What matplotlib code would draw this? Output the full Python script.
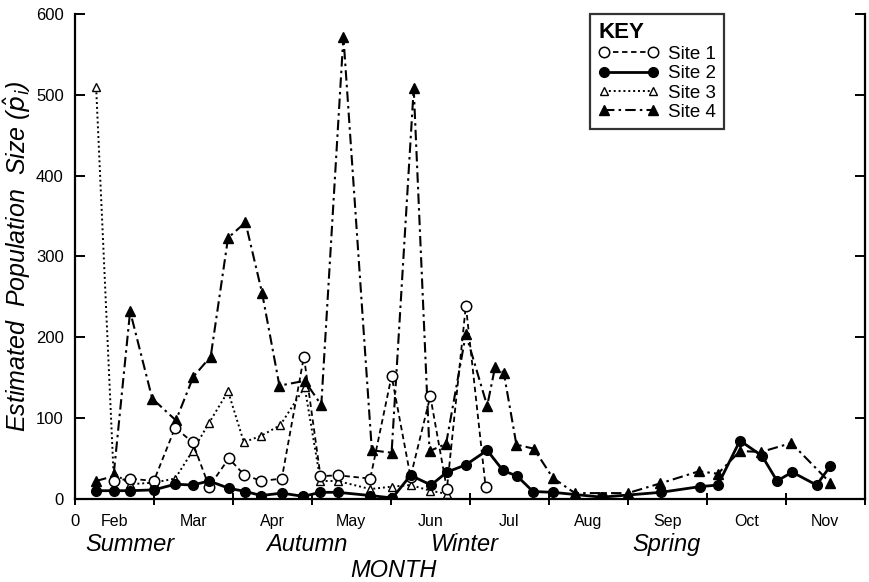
import matplotlib
matplotlib.use('Agg')
import matplotlib.pyplot as plt
from matplotlib.transforms import blended_transform_factory

plt.rcParams['font.family'] = ['Liberation Sans', 'DejaVu Sans']

# x positions are in months from the start of February (0 = start of Feb)
site1_x = [0.49, 0.70, 1.00, 1.27, 1.49, 1.70, 1.95, 2.14, 2.36, 2.62, 2.90, 3.11, 3.33,
           3.74, 4.01, 4.25, 4.50, 4.71, 4.95, 5.20]
site1_y = [22, 25, 22, 88, 70, 15, 50, 30, 22, 25, 176, 28, 29,
           25, 152, 27, 127, 12, 239, 15]

site2_x = [0.27, 0.49, 0.70, 1.00, 1.27, 1.49, 1.70, 1.95, 2.16, 2.36, 2.62, 2.89, 3.11, 3.33,
           3.74, 4.02, 4.25, 4.51, 4.71, 4.95, 5.22, 5.42, 5.60, 5.80, 6.05, 6.67,
           7.42, 7.91, 8.14, 8.42, 8.70, 8.89, 9.08, 9.39, 9.56]
site2_y = [10, 10, 10, 11, 18, 17, 22, 13, 9, 4, 7, 3, 8, 8,
           4, 1, 29, 17, 33, 42, 60, 35, 28, 9, 8, 2,
           8, 15, 17, 72, 53, 22, 33, 17, 40]

site3_x = [0.27, 0.49, 0.70, 1.00, 1.27, 1.49, 1.70, 1.94, 2.14, 2.36, 2.60, 2.91, 3.11, 3.33,
           3.74, 4.01, 4.25, 4.50, 4.71]
site3_y = [509, 32, 18, 20, 25, 59, 94, 133, 70, 78, 91, 138, 22, 22,
           12, 15, 17, 10, 6]

site4_x = [0.27, 0.49, 0.70, 0.98, 1.28, 1.50, 1.72, 1.94, 2.16, 2.37, 2.59, 2.91, 3.12, 3.40,
           3.76, 4.01, 4.29, 4.49, 4.70, 4.95, 5.22, 5.32, 5.43, 5.59, 5.81, 6.05, 6.33,
           7.00, 7.41, 7.90, 8.14, 8.42, 8.69, 9.07, 9.56]
site4_y = [22, 28, 232, 124, 97, 151, 176, 323, 342, 255, 140, 146, 116, 572,
           60, 57, 508, 59, 68, 204, 115, 163, 156, 67, 62, 26, 7,
           7, 19, 34, 31, 59, 58, 69, 20]

months = ['Feb', 'Mar', 'Apr', 'May', 'Jun', 'Jul', 'Aug', 'Sep', 'Oct', 'Nov']
seasons = ['Summer', 'Autumn', 'Winter', 'Spring']
season_pos = [0.70, 2.94, 4.94, 7.49]

fig = plt.figure(figsize=(8.7, 5.82), dpi=100)
ax = fig.add_axes([0.086, 0.143, 0.908, 0.833])

ax.plot(site1_x, site1_y, linestyle=(0, (3, 2)), color='black', lw=1.3,
        marker='o', markersize=7.5, markerfacecolor='white', markeredgecolor='black',
        markeredgewidth=1.1, label='Site 1', zorder=3)
ax.plot(site2_x, site2_y, linestyle='-', color='black', lw=2.0,
        marker='o', markersize=7, markerfacecolor='black', label='Site 2', zorder=4)
ax.plot(site3_x, site3_y, linestyle=(0, (1, 1.5)), color='black', lw=1.4,
        marker='^', markersize=6, markerfacecolor='white', markeredgecolor='black',
        markeredgewidth=1.0, label='Site 3', zorder=2)
ax.plot(site4_x, site4_y, linestyle=(0, (5, 2, 1.2, 2)), color='black', lw=1.5,
        marker='^', markersize=6.5, markerfacecolor='black', label='Site 4', zorder=2)

ax.set_xlim(0, 10)
ax.set_ylim(0, 600)

ax.spines['top'].set_visible(False)
for s in ['left', 'right', 'bottom']:
    ax.spines[s].set_linewidth(1.6)

ax.set_yticks(range(0, 601, 100))
ax.set_yticklabels(['0', '100', '200', '300', '400', '500', '600'], fontsize=12)
ax.tick_params(axis='y', direction='in', length=7, width=1.4, left=True, right=True, pad=8)

ax.set_xticks(range(0, 11))
ax.set_xticklabels(['0'] + [''] * 10, fontsize=12)
ax.set_xticks([i + 0.5 for i in range(10)], minor=True)
ax.set_xticklabels(months, minor=True, fontsize=11.5)
ax.tick_params(axis='x', which='major', direction='inout', length=8, width=1.4, pad=7)
ax.tick_params(axis='x', which='minor', length=0, pad=11)

trans = blended_transform_factory(ax.transData, ax.transAxes)
for name, pos in zip(seasons, season_pos):
    ax.text(pos, -0.095, name, transform=trans, ha='center', va='center',
            fontsize=17, style='italic')
ax.text(4.03, -0.148, 'MONTH', transform=trans, ha='center', va='center',
        fontsize=17, style='italic')

ax.set_ylabel(r'Estimated  Population  Size ($\hat{p}_i$)', fontsize=18,
              style='italic', labelpad=2)

leg = ax.legend(loc='upper left', bbox_to_anchor=(0.652, 1.0), title='KEY',
                numpoints=2, handlelength=3.2, fontsize=13.5, frameon=True,
                fancybox=False, edgecolor='black', borderpad=0.45,
                labelspacing=0.12, handletextpad=0.5, borderaxespad=0.0)
leg.get_frame().set_linewidth(1.6)
leg.get_title().set_fontsize(16)
leg.get_title().set_fontweight('bold')
leg._legend_box.align = 'left'

fig.savefig('out.png', dpi=100)
